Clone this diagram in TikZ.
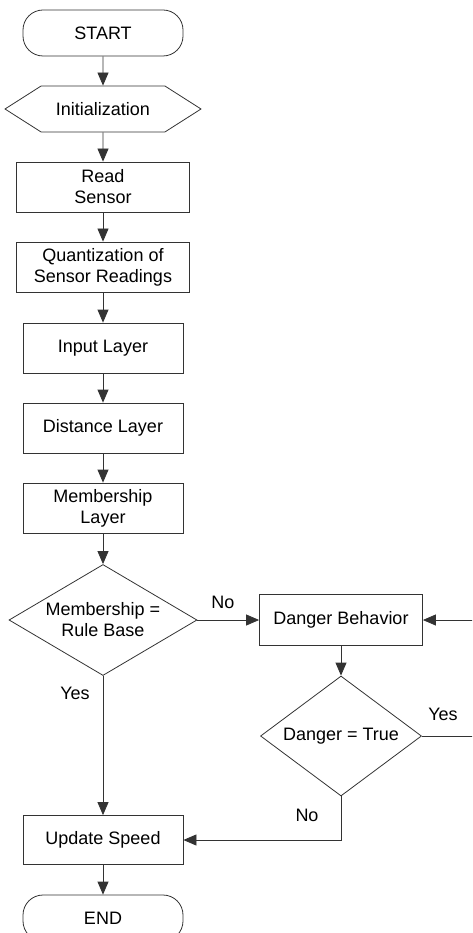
\documentclass[tikz,border=0pt]{standalone}
\usepackage{fontspec}
\setmainfont{Liberation Sans}
\usetikzlibrary{shapes.geometric, shapes.symbols, arrows.meta}
\usetikzlibrary{positioning}
\usetikzlibrary{calc}

\begin{document}
\begin{tikzpicture}[x=1pt, y=-1pt, font=\fontsize{18}{21}\selectfont,
    every node/.style={draw=black!80, line width=0.8pt, align=center, inner sep=2pt},
    terminal/.style={rectangle, rounded corners=20pt, minimum width=160pt, minimum height=46pt},
    process/.style={rectangle, minimum width=160pt, minimum height=50pt},
    wideprocess/.style={rectangle, minimum width=173pt, minimum height=50pt},
    prep/.style={signal, signal to=west and east, signal pointer angle=65, minimum width=196pt, minimum height=46pt},
    decision/.style={diamond, inner sep=0pt},
    answer/.style={draw=none},
    flow/.style={draw=black!80, line width=0.8pt, -{Triangle[width=11pt,length=13pt]}}]

        % Picture frame (the loop back runs off the right edge)
        \useasboundingbox (0,0) rectangle (472,933);
        \clip (0,0) rectangle (472,933);

        % Main column
        \def\colx{103}

        % Danger branch
        \def\branchx{341}

        % Nodes of the main column
        \node[terminal] (start) at (\colx,33) {START};
        \node[prep] (init) at (\colx,109) {Initialization};
        \node[wideprocess] (read) at (\colx,187) {Read\\Sensor};
        \node[wideprocess] (quant) at (\colx,267) {Quantization of\\Sensor Readings};
        \node[process] (input) at (\colx,348) {Input Layer};
        \node[process] (dist) at (\colx,428) {Distance Layer};
        \node[process] (member) at (\colx,508) {Membership\\Layer};
        \node[decision, aspect=1.7, minimum width=188pt, minimum height=111pt] (rule) at (\colx,620) {Membership =\\Rule Base};
        \node[process, minimum height=49pt] (update) at (\colx,840) {Update Speed};
        \node[terminal] (end) at (\colx,918) {END};

        % Nodes of the danger branch
        \node[process, minimum width=163pt, minimum height=51pt] (danger) at (\branchx,620) {Danger Behavior};
        \node[decision, aspect=1.34, minimum width=161pt, minimum height=120pt] (dtrue) at (\branchx,736) {Danger = True};

        % Answers
        \node[answer] (rno) at (223,602) {No};
        \node[answer] (ryes) at (75,693) {Yes};
        \node[answer] (dyes) at (443,714) {Yes};
        \node[answer] (dno) at (307,815) {No};

        % Straight steps down the main column
        \foreach \a/\b in {start/init, init/read, read/quant, quant/input, input/dist, dist/member, member/rule, update/end} {
          \draw[flow] (\a) -- (\b);
        }

        % Decisions
        \draw[flow] (rule.south) -- (update.north);
        \draw[flow] (rule.east) -- (danger.west);
        \draw[flow] (danger) -- (dtrue);
        \draw[flow] (dtrue.south) |- (update.east);

        % Loop back to the danger behaviour, outside the frame
        \coordinate (loopa) at (480,736);
        \coordinate (loopb) at (480,620);
        \draw[flow] (dtrue.east) -- (loopa) -- (loopb) -- (danger.east);

      \end{tikzpicture}
\end{document}
